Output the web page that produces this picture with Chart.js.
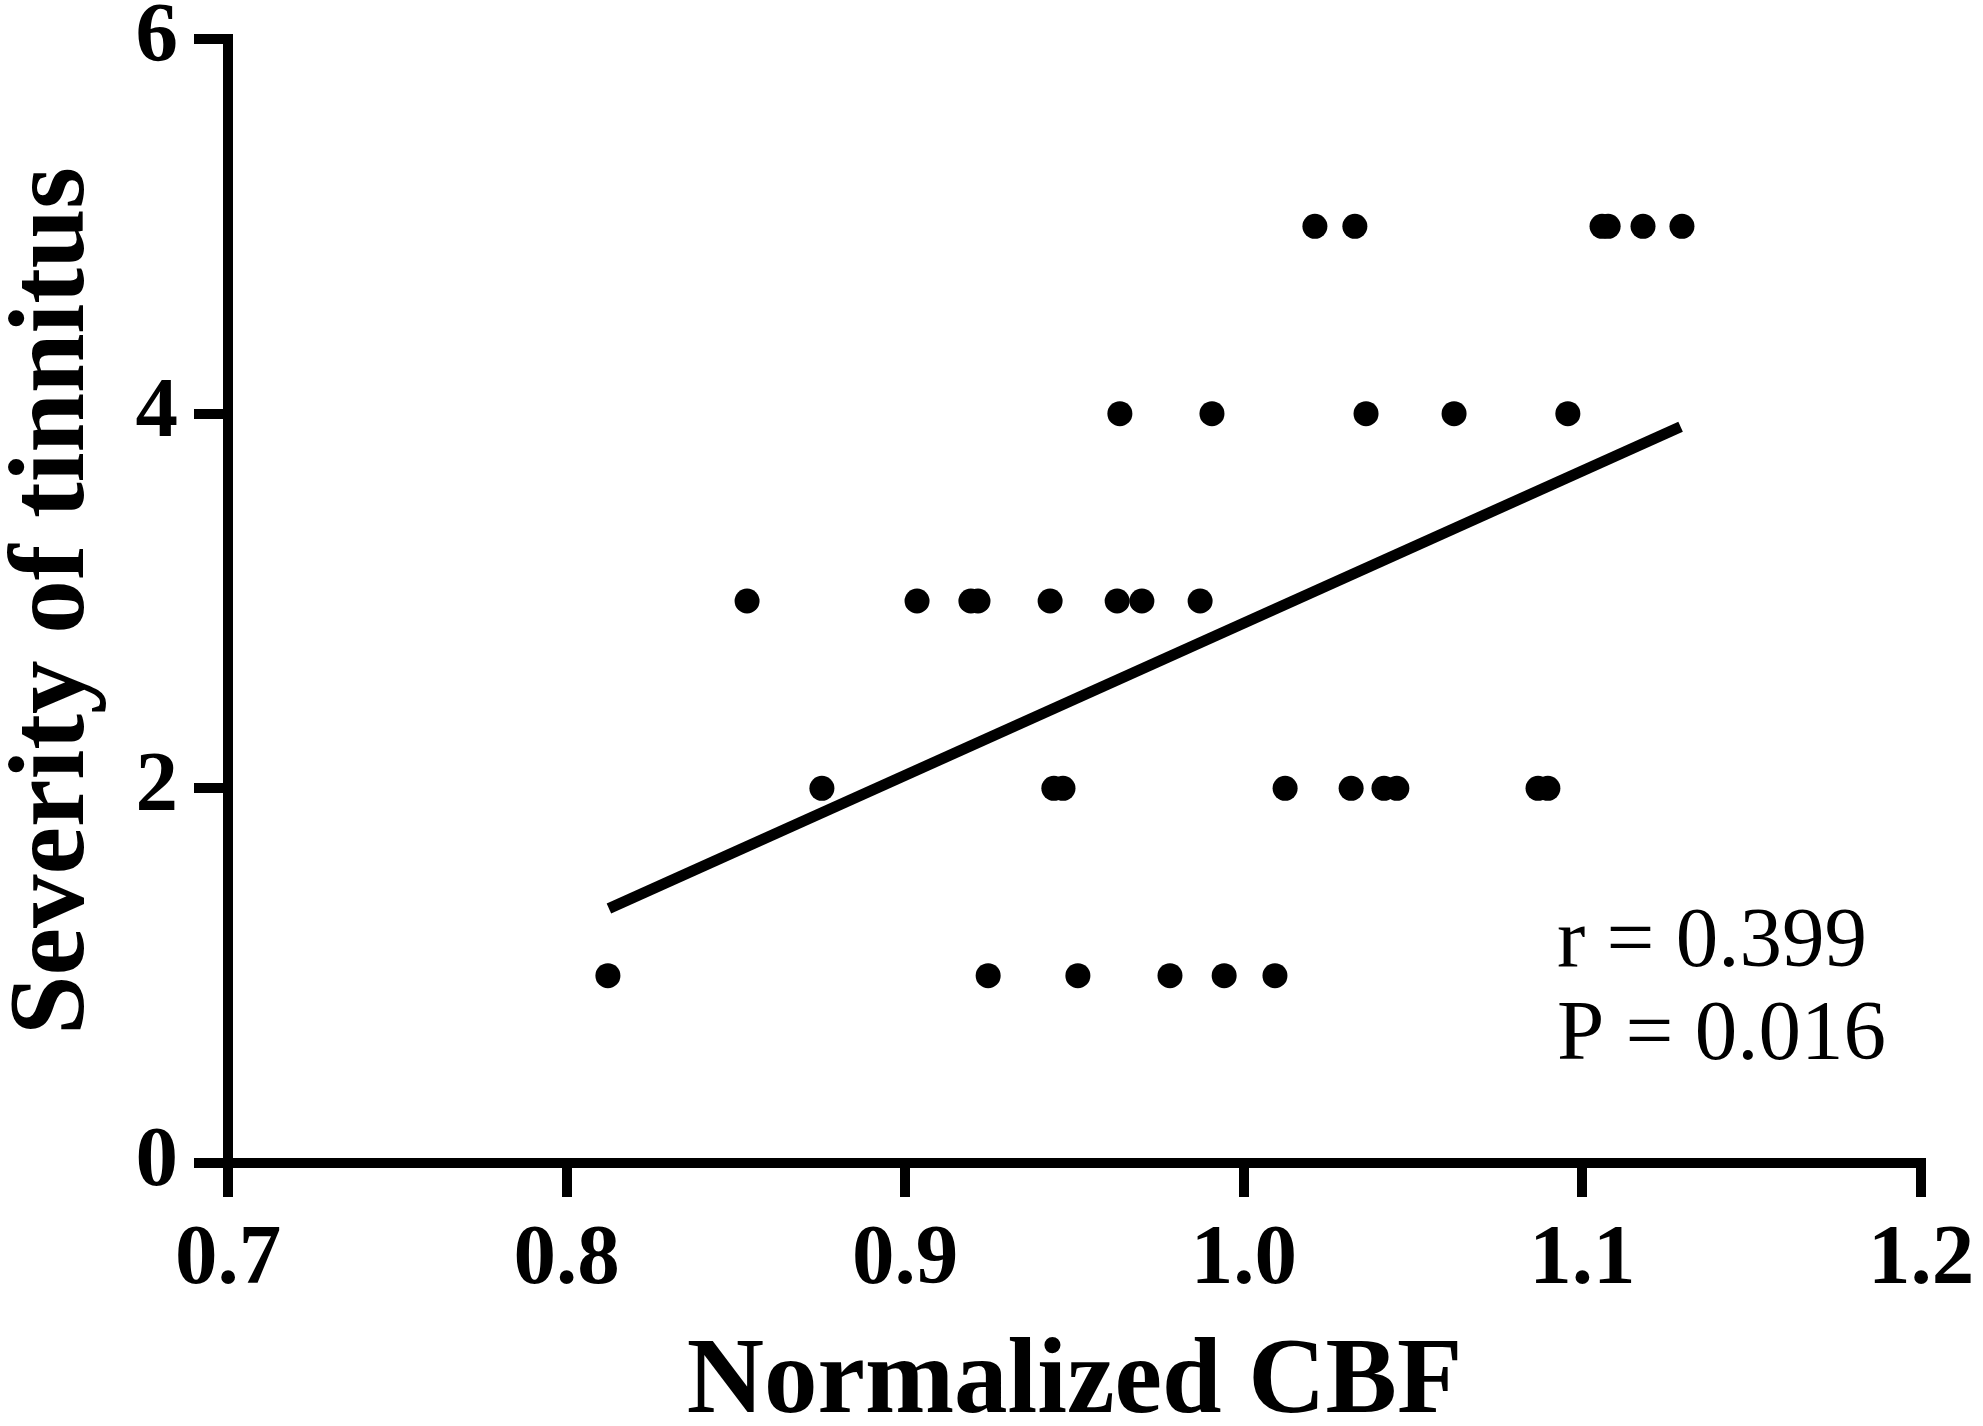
<!DOCTYPE html>
<html>
<head>
<meta charset="utf-8">
<title>Normalized CBF vs severity of tinnitus</title>
<script src="https://cdn.jsdelivr.net/npm/chart.js@4.4.0/dist/chart.umd.min.js"></script>
<style>
  html, body { margin: 0; padding: 0; background: #fff; }
  #wrap { width: 1983px; height: 1426px; }
</style>
</head>
<body>
<div id="wrap"><canvas id="scatterChart"></canvas></div>
<script>
// values, one entry per subject
let normalizedCBF = [
    1.0210, 1.0328, 1.1058, 1.1076, 1.1179, 1.1294,
    0.9634, 0.9906, 1.0361, 1.0621, 1.0957,
    0.8533, 0.9035, 0.9194, 0.9215, 0.9428, 0.9626, 0.9699, 0.9871,
    0.8754, 0.9439, 0.9466, 1.0122, 1.0317, 1.0414, 1.0452, 1.0869, 1.0898,
    0.8122, 0.9245, 0.9510, 0.9782, 0.9942, 1.0092
];
let severity = [
    5, 5, 5, 5, 5, 5,
    4, 4, 4, 4, 4,
    3, 3, 3, 3, 3, 3, 3, 3,
    2, 2, 2, 2, 2, 2, 2, 2, 2,
    1, 1, 1, 1, 1, 1
];

// fitted line, ends as drawn in the figure
let fitX = [0.8125, 1.129];
let fitY = [1.358, 3.93];

let xTickValues = [0.7, 0.8, 0.9, 1.0, 1.1, 1.2];
let yTickValues = [0, 2, 4, 6];

let statsLines = ['r = 0.399', 'P = 0.016'];

document.addEventListener('DOMContentLoaded', function () {
    let points = normalizedCBF.map((v, i) => ({ x: v, y: severity[i] }));
    let fitLine = fitX.map((v, i) => ({ x: v, y: fitY[i] }));

    let serif = '"Liberation Serif", "Times New Roman", serif';

    // r / P text in the lower right corner
    let statsText = {
        id: 'statsText',
        afterDraw(chart) {
            let ctx = chart.ctx;
            let x = chart.scales.x.getPixelForValue(1.0925);
            let y = chart.scales.y.getPixelForValue(1.05);
            ctx.save();
            ctx.font = '85px ' + serif;
            ctx.fillStyle = '#000';
            ctx.textAlign = 'left';
            ctx.textBaseline = 'alphabetic';
            statsLines.forEach((line, i) => ctx.fillText(line, x, y + i * 93));
            ctx.restore();
        }
    };

    let axisGrid = {
        display: true,
        drawOnChartArea: false,
        drawTicks: true,
        tickLength: 34,
        lineWidth: 10,
        color: '#000'
    };
    let axisBorder = { display: true, width: 10, color: '#000' };

    let ctx = document.getElementById('scatterChart').getContext('2d');

    let chart = new Chart(ctx, {
        type: 'scatter',
        data: {
            datasets: [
                {
                    label: 'Subjects',
                    data: points,
                    backgroundColor: '#000',
                    borderWidth: 0,
                    pointRadius: 12.5,
                    pointHoverRadius: 12.5
                },
                {
                    label: 'Fit',
                    data: fitLine,
                    showLine: true,
                    borderColor: '#000',
                    borderWidth: 11,
                    pointRadius: 0,
                    pointHoverRadius: 0
                }
            ]
        },
        options: {
            responsive: true,
            maintainAspectRatio: false,
            devicePixelRatio: 1,
            animation: false,
            layout: { padding: { top: 39, right: 62, bottom: 0, left: 0 } },
            plugins: {
                legend: { display: false },
                tooltip: { enabled: false }
            },
            scales: {
                x: {
                    type: 'linear',
                    min: 0.7,
                    max: 1.2,
                    grid: axisGrid,
                    border: axisBorder,
                    afterBuildTicks: scale => { scale.ticks = xTickValues.map(v => ({ value: v })); },
                    afterFit: scale => {
                        scale.height = 263;
                        scale.paddingLeft = 0;
                        scale.paddingRight = 0;
                    },
                    ticks: {
                        color: '#000',
                        padding: 13,
                        maxRotation: 0,
                        autoSkip: false,
                        font: { family: serif, size: 85, weight: 'bold' },
                        callback: v => Number(v).toFixed(1)
                    },
                    title: {
                        display: true,
                        text: 'Normalized CBF',
                        color: '#000',
                        padding: 0,
                        font: { family: serif, size: 107, weight: 'bold', lineHeight: 0.78 }
                    }
                },
                y: {
                    type: 'linear',
                    min: 0,
                    max: 6,
                    grid: axisGrid,
                    border: axisBorder,
                    afterBuildTicks: scale => { scale.ticks = yTickValues.map(v => ({ value: v })); },
                    afterFit: scale => {
                        scale.width = 228;
                        scale.paddingTop = 0;
                        scale.paddingBottom = 0;
                    },
                    ticks: {
                        color: '#000',
                        padding: 16,
                        autoSkip: false,
                        font: { family: serif, size: 85, weight: 'bold' },
                        callback: v => String(v)
                    },
                    title: {
                        display: true,
                        text: 'Severity of tinnitus',
                        color: '#000',
                        padding: { top: 10, bottom: 0 },
                        font: { family: serif, size: 107, weight: 'bold', lineHeight: 0.85 }
                    }
                }
            }
        },
        plugins: [statsText]
    });
});
</script>
</body>
</html>
